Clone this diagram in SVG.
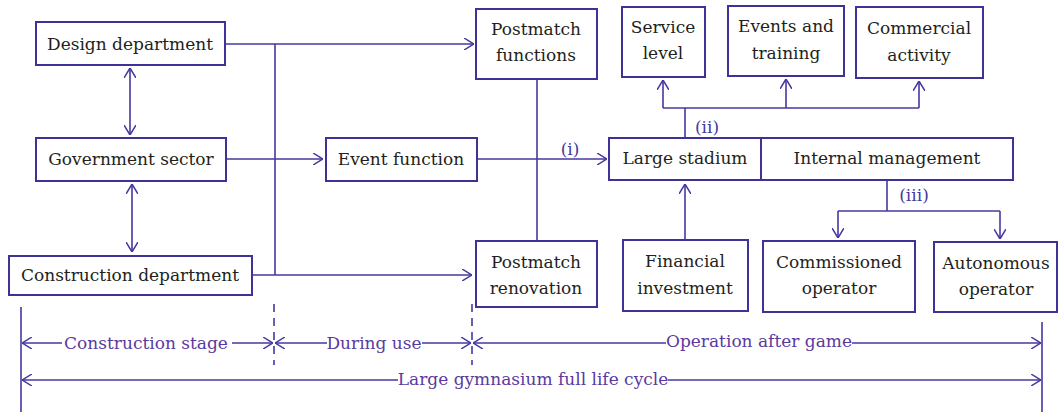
<svg xmlns="http://www.w3.org/2000/svg" width="1058" height="415" viewBox="0 0 1058 415">
<style>
.box{fill:#fff;stroke:#3d3397;stroke-width:2}
.t{font-family:'DejaVu Serif','Liberation Serif',serif;font-size:17px;fill:#231f20;text-anchor:middle}
.c{fill:none;stroke:#4438a0;stroke-width:1.6}
.lab{font-family:'DejaVu Serif','Liberation Serif',serif;font-size:17px;fill:#4438a0;text-anchor:middle}
.tl{font-family:'DejaVu Serif','Liberation Serif',serif;font-size:17px;fill:#5a3aa0;text-anchor:middle}
.d{fill:none;stroke:#4438a0;stroke-width:1.6;stroke-dasharray:8,6}
</style>
<defs>
<marker id="a" viewBox="0 0 10 12" refX="10" refY="6" markerWidth="10" markerHeight="12" markerUnits="userSpaceOnUse" orient="auto-start-reverse">
<path d="M0,0 L10,6 L0,12" fill="none" stroke="#4438a0" stroke-width="1.5"/>
</marker>
</defs>
<g id="connectors">
<path class="c" d="M225,44 H474" marker-end="url(#a)"/>
<path class="c" d="M252,275 H472" marker-end="url(#a)"/>
<path class="c" d="M275,44 V275"/>
<path class="c" d="M226,159 H323" marker-end="url(#a)"/>
<path class="c" d="M130,68 V135" marker-start="url(#a)" marker-end="url(#a)"/>
<path class="c" d="M132,184 V252" marker-start="url(#a)" marker-end="url(#a)"/>
<path class="c" d="M537,79 V241"/>
<path class="c" d="M477,159 H607" marker-end="url(#a)"/>
<path class="c" d="M685,138 V108"/>
<path class="c" d="M663,108 H919"/>
<path class="c" d="M663,108 V80" marker-end="url(#a)"/>
<path class="c" d="M786,108 V79" marker-end="url(#a)"/>
<path class="c" d="M919,108 V81" marker-end="url(#a)"/>
<path class="c" d="M685,240 V184" marker-end="url(#a)"/>
<path class="c" d="M887,180 V211"/>
<path class="c" d="M838,211 H1000"/>
<path class="c" d="M838,211 V238" marker-end="url(#a)"/>
<path class="c" d="M1000,211 V239" marker-end="url(#a)"/>
<text class="lab" x="570" y="155">(i)</text>
<text class="lab" x="707" y="133">(ii)</text>
<text class="lab" x="914" y="201">(iii)</text>
</g>
<g id="design"><rect class="box" x="36" y="22" width="189" height="43"/><text class="t" x="130" y="50">Design department</text></g>
<g id="government"><rect class="box" x="36" y="138" width="190" height="43"/><text class="t" x="131" y="165">Government sector</text></g>
<g id="construction"><rect class="box" x="9" y="256" width="243" height="39"/><text class="t" x="130" y="281">Construction department</text></g>
<g id="event"><rect class="box" x="326" y="138" width="151" height="43"/><text class="t" x="401" y="165">Event function</text></g>
<g id="pm-functions"><rect class="box" x="476" y="9" width="121" height="70"/><text class="t" x="536" y="35">Postmatch</text><text class="t" x="536" y="61">functions</text></g>
<g id="pm-renovation"><rect class="box" x="476" y="241" width="121" height="66"/><text class="t" x="536" y="268">Postmatch</text><text class="t" x="536" y="294">renovation</text></g>
<g id="service"><rect class="box" x="622" y="7" width="83" height="70"/><text class="t" x="663" y="33">Service</text><text class="t" x="663" y="59">level</text></g>
<g id="events-training"><rect class="box" x="728" y="6" width="116" height="70"/><text class="t" x="786" y="32">Events and</text><text class="t" x="786" y="59">training</text></g>
<g id="commercial"><rect class="box" x="856" y="7" width="127" height="71"/><text class="t" x="919" y="34">Commercial</text><text class="t" x="919" y="61">activity</text></g>
<g id="stadium"><rect class="box" x="609" y="138" width="152" height="42"/><text class="t" x="685" y="164">Large stadium</text></g>
<g id="internal"><rect class="box" x="761" y="138" width="252" height="42"/><text class="t" x="887" y="164">Internal management</text></g>
<g id="financial"><rect class="box" x="623" y="240" width="125" height="71"/><text class="t" x="685" y="267">Financial</text><text class="t" x="685" y="294">investment</text></g>
<g id="commissioned"><rect class="box" x="763" y="241" width="152" height="71"/><text class="t" x="839" y="268">Commissioned</text><text class="t" x="839" y="294">operator</text></g>
<g id="autonomous"><rect class="box" x="934" y="242" width="123" height="70"/><text class="t" x="996" y="269">Autonomous</text><text class="t" x="996" y="295">operator</text></g>
<g id="timeline">
<path class="c" d="M21,307 V412"/>
<path class="c" d="M1042,322 V412"/>
<path class="d" d="M274,304 V365"/>
<path class="d" d="M472,304 V365"/>
<path class="c" d="M22,343 H62" marker-start="url(#a)"/>
<path class="c" d="M232,343 H273" marker-end="url(#a)"/>
<path class="c" d="M275,343 H327" marker-start="url(#a)"/>
<path class="c" d="M422,343 H471" marker-end="url(#a)"/>
<path class="c" d="M473,343 H666" marker-start="url(#a)"/>
<path class="c" d="M852,343 H1041" marker-end="url(#a)"/>
<path class="c" d="M22,380 H398" marker-start="url(#a)"/>
<path class="c" d="M668,380 H1041" marker-end="url(#a)"/>
<text class="tl" x="146" y="349">Construction stage</text>
<text class="tl" x="374" y="349">During use</text>
<text class="tl" x="759" y="347">Operation after game</text>
<text class="tl" x="533" y="385">Large gymnasium full life cycle</text>
</g>
</svg>
